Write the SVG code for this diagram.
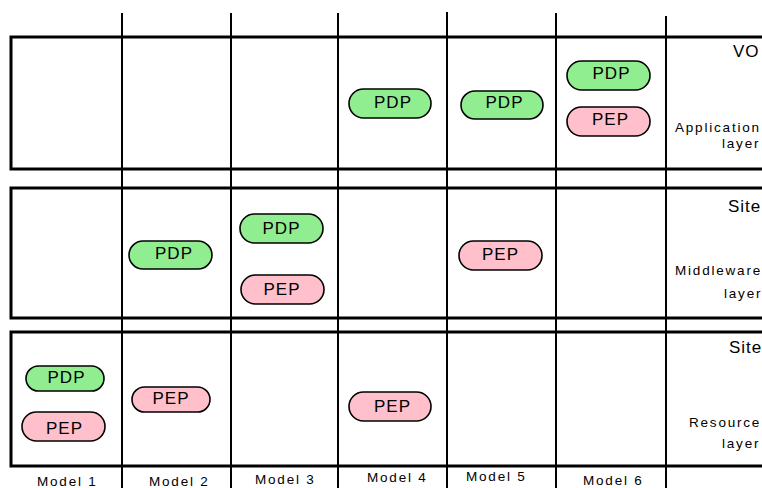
<svg xmlns="http://www.w3.org/2000/svg" width="762" height="488" viewBox="0 0 762 488">
<style>
.band{fill:none;stroke:#000;stroke-width:3}
.col{stroke:#000;stroke-width:2}
.pdp{fill:#90EE90;stroke:#000;stroke-width:1.6}
.pep{fill:#FFC0CB;stroke:#000;stroke-width:1.6}
.pt{font-family:"Liberation Sans",Arial,sans-serif;font-size:17px;letter-spacing:1px;text-anchor:middle;fill:#000}
.lbl{font-family:"Liberation Sans",Arial,sans-serif;font-size:13.5px;letter-spacing:1.8px;fill:#000}
.big{font-family:"Liberation Sans",Arial,sans-serif;font-size:17px;letter-spacing:1px;fill:#000}
</style>
<rect width="762" height="488" fill="#fff"/>
<g id="bands">
<rect class="band" x="11" y="37" width="780" height="132"/>
<rect class="band" x="11" y="188" width="780" height="130"/>
<rect class="band" x="11" y="332" width="780" height="134"/>
</g>
<g id="columns">
<line class="col" x1="122" y1="13" x2="122" y2="488"/>
<line class="col" x1="231" y1="13" x2="231" y2="488"/>
<line class="col" x1="338" y1="13" x2="338" y2="488"/>
<line class="col" x1="447" y1="12" x2="447" y2="488"/>
<line class="col" x1="556" y1="13" x2="556" y2="488"/>
<line class="col" x1="666" y1="16" x2="666" y2="488"/>
</g>
<g id="layer-labels">
<text class="big" x="733" y="57">VO</text>
<text class="lbl" x="675" y="132">Application</text>
<text class="lbl" x="722" y="148">layer</text>
<text class="big" x="728" y="212">Site</text>
<text class="lbl" x="675" y="275">Middleware</text>
<text class="lbl" x="724" y="298">layer</text>
<text class="big" x="729" y="353">Site</text>
<text class="lbl" x="689" y="427">Resource</text>
<text class="lbl" x="722" y="448">layer</text>
</g>
<g id="model-labels">
<text class="lbl" x="37" y="486">Model 1</text>
<text class="lbl" x="149" y="486">Model 2</text>
<text class="lbl" x="255" y="484">Model 3</text>
<text class="lbl" x="367" y="482">Model 4</text>
<text class="lbl" x="466" y="481">Model 5</text>
<text class="lbl" x="583" y="485">Model 6</text>
</g>
<g id="m4-app-pdp"><rect class="pdp" x="349" y="89" width="82" height="29" rx="14.5"/><text class="pt" x="393" y="107.5">PDP</text></g>
<g id="m5-app-pdp"><rect class="pdp" x="461" y="91" width="82" height="28" rx="14"/><text class="pt" x="504.5" y="108">PDP</text></g>
<g id="m6-app-pdp"><rect class="pdp" x="567" y="61" width="83" height="29" rx="14.5"/><text class="pt" x="611.5" y="78.5">PDP</text></g>
<g id="m6-app-pep"><rect class="pep" x="567" y="107" width="83" height="29" rx="14.5"/><text class="pt" x="610.5" y="125">PEP</text></g>
<g id="m2-mid-pdp"><rect class="pdp" x="129" y="241" width="83" height="28" rx="14"/><text class="pt" x="174" y="258.5">PDP</text></g>
<g id="m3-mid-pdp"><rect class="pdp" x="240" y="214" width="83" height="29" rx="14.5"/><text class="pt" x="281.5" y="234">PDP</text></g>
<g id="m3-mid-pep"><rect class="pep" x="241" y="275" width="83" height="29" rx="14.5"/><text class="pt" x="282" y="295">PEP</text></g>
<g id="m5-mid-pep"><rect class="pep" x="459" y="241" width="83" height="29" rx="14.5"/><text class="pt" x="500.5" y="260">PEP</text></g>
<g id="m1-res-pdp"><rect class="pdp" x="26" y="366" width="78" height="25" rx="12.5"/><text class="pt" x="66.5" y="383">PDP</text></g>
<g id="m1-res-pep"><rect class="pep" x="22" y="412" width="83" height="29" rx="14.5"/><text class="pt" x="64.5" y="433.5">PEP</text></g>
<g id="m2-res-pep"><rect class="pep" x="132" y="387" width="78" height="25" rx="12.5"/><text class="pt" x="171" y="403.5">PEP</text></g>
<g id="m4-res-pep"><rect class="pep" x="349" y="392" width="82" height="29" rx="14.5"/><text class="pt" x="392.5" y="412">PEP</text></g>
</svg>
